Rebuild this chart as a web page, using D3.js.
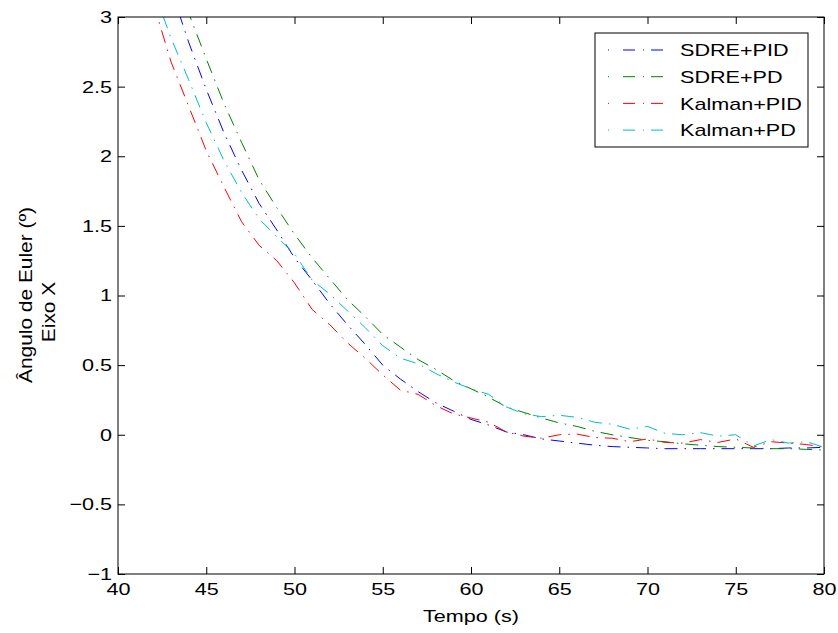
<!DOCTYPE html>
<html>
<head>
<meta charset="utf-8">
<script src="https://cdn.jsdelivr.net/npm/d3@7"></script>
<style>
  body { margin: 0; background: #fff; }
  text { font-family: 'Liberation Sans', Arial, Helvetica, sans-serif; }
</style>
</head>
<body>
<svg id="chart" width="838" height="633"></svg>
<script>
// data (time in s, angle in degrees)
const tempo = [42, 43, 44, 45, 46, 47, 48, 49, 50, 51, 52, 53, 54, 55, 56, 57, 58, 59, 60, 61,
  62, 63, 64, 65, 66, 67, 68, 69, 70, 71, 72, 73, 74, 75, 76, 77, 78, 79, 80];

const sdrePid = [3.62, 3.2, 2.82, 2.48, 2.17, 1.9, 1.66, 1.47, 1.27, 1.11, 0.94, 0.79, 0.65, 0.5,
  0.4, 0.31, 0.23, 0.17, 0.11, 0.07, 0.02, 0.0, -0.03, -0.045, -0.06, -0.075, -0.085, -0.09,
  -0.095, -0.1, -0.1, -0.1, -0.1, -0.1, -0.1, -0.1, -0.095, -0.095, -0.09];

const sdrePd = [3.85, 3.42, 3.03, 2.7, 2.38, 2.1, 1.83, 1.63, 1.44, 1.27, 1.12, 0.97, 0.85, 0.72,
  0.63, 0.54, 0.47, 0.39, 0.33, 0.27, 0.2, 0.16, 0.12, 0.085, 0.06, 0.025, 0.0, -0.02, -0.04,
  -0.05, -0.065, -0.075, -0.085, -0.09, -0.095, -0.1, -0.1, -0.105, -0.11];

const kalmanPid = [3.1, 2.68, 2.36, 2.04, 1.78, 1.53, 1.36, 1.25, 1.09, 0.9, 0.79, 0.66, 0.55, 0.43,
  0.32, 0.29, 0.21, 0.15, 0.12, 0.09, 0.02, -0.01, -0.025, 0.0, 0.005, -0.02, -0.025, -0.05, -0.03,
  -0.055, -0.06, -0.035, -0.055, -0.03, -0.09, -0.05, -0.06, -0.07, -0.09];

const kalmanPd = [3.2, 2.85, 2.55, 2.24, 1.97, 1.74, 1.55, 1.42, 1.3, 1.11, 1.01, 0.89, 0.77, 0.64,
  0.55, 0.51, 0.44, 0.38, 0.33, 0.29, 0.2, 0.15, 0.13, 0.14, 0.125, 0.09, 0.075, 0.04, 0.06, 0.01,
  0.0, 0.015, -0.01, 0.0, -0.08, -0.035, -0.06, -0.05, -0.09];

const seriesNames = ['SDRE+PID', 'SDRE+PD', 'Kalman+PID', 'Kalman+PD'];
const seriesValues = [sdrePid, sdrePd, kalmanPid, kalmanPd];
const seriesColors = ['#0000ff', '#008000', '#ff0000', '#00bfbf'];

const xTicks = [40, 45, 50, 55, 60, 65, 70, 75, 80];
const yTicks = [-1, -0.5, 0, 0.5, 1, 1.5, 2, 2.5, 3];

// layout
const margin = { left: 118, top: 17 };
const width = 706;
const height = 557;
const fontSize = 17;
const stretch = 1.27; // the reference text is wider than plain Arial
const dashes = '13,7,1.5,7';

const svg = d3.select('#chart');
const g = svg.append('g').attr('transform', `translate(${margin.left},${margin.top})`);

const x = d3.scaleLinear().domain([40, 80]).range([0, width]);
const y = d3.scaleLinear().domain([-1, 3]).range([height, 0]);

const fmt = (d) => String(d).replace('-', '\u2212');

svg.append('defs')
  .append('clipPath')
  .attr('id', 'plot-area')
  .append('rect')
  .attr('width', width)
  .attr('height', height);

// curves
const line = d3.line()
  .x((d, i) => x(tempo[i]))
  .y((d) => y(d));

g.append('g')
  .attr('clip-path', 'url(#plot-area)')
  .selectAll('path')
  .data(seriesValues)
  .enter()
  .append('path')
  .attr('d', (d) => line(d))
  .attr('fill', 'none')
  .attr('stroke', (d, i) => seriesColors[i])
  .attr('stroke-width', 1)
  .attr('stroke-dasharray', dashes);

// axes, ticks pointing inward like matlab
const bottomAxis = g.append('g')
  .attr('transform', `translate(0,${height})`)
  .call(d3.axisBottom(x).tickValues(xTicks).tickSize(-7).tickPadding(9).tickFormat(fmt));
const leftAxis = g.append('g')
  .call(d3.axisLeft(y).tickValues(yTicks).tickSize(-7).tickPadding(6).tickFormat(fmt));
g.append('g')
  .call(d3.axisTop(x).tickValues(xTicks).tickSize(-7).tickFormat(''));
g.append('g')
  .attr('transform', `translate(${width},0)`)
  .call(d3.axisRight(y).tickValues(yTicks).tickSize(-7).tickFormat(''));

g.selectAll('.domain').remove();
g.selectAll('.tick line').attr('stroke', '#000');

bottomAxis.selectAll('text')
  .attr('font-size', fontSize)
  .attr('fill', '#000')
  .attr('transform', `scale(${stretch},1)`);
leftAxis.selectAll('text')
  .attr('font-size', fontSize)
  .attr('fill', '#000')
  .attr('x', -6 / stretch)
  .attr('transform', `scale(${stretch},1)`);

g.append('rect')
  .attr('width', width)
  .attr('height', height)
  .attr('fill', 'none')
  .attr('stroke', '#000')
  .attr('stroke-width', 1);

// axis titles
svg.append('g')
  .attr('transform', `translate(${margin.left + width / 2},622) scale(${stretch},1)`)
  .append('text')
  .attr('text-anchor', 'middle')
  .attr('font-size', fontSize)
  .text('Tempo (s)');

const yTitleLines = ['\u00c2ngulo de Euler (\u00ba)', 'Eixo X'];
const yTitleCenters = [295, 312];
const yTitleBaselines = [32, 55];

svg.selectAll('g.ytitle')
  .data(yTitleLines)
  .enter()
  .append('g')
  .attr('class', 'ytitle')
  .attr('transform', (d, i) => `translate(0,${yTitleCenters[i]}) rotate(-90) scale(1.1,1)`)
  .append('text')
  .attr('text-anchor', 'middle')
  .attr('y', (d, i) => yTitleBaselines[i])
  .attr('font-size', 19)
  .text((d) => d);

// legend
const legend = svg.append('g').attr('transform', 'translate(595,33)');
legend.append('rect')
  .attr('width', 213)
  .attr('height', 114)
  .attr('fill', '#fff')
  .attr('stroke', '#000')
  .attr('stroke-width', 1);

const rows = legend.selectAll('g.row')
  .data(seriesNames)
  .enter()
  .append('g')
  .attr('class', 'row')
  .attr('transform', (d, i) => `translate(0,${17 + i * 26.7})`);

rows.append('line')
  .attr('x1', 13)
  .attr('x2', 77)
  .attr('stroke', (d, i) => seriesColors[i])
  .attr('stroke-width', 1)
  .attr('stroke-dasharray', '1,14,12,8,1,7,12,9,1');

rows.append('g')
  .attr('transform', `translate(85,0) scale(${stretch},1)`)
  .append('text')
  .attr('dy', '0.36em')
  .attr('font-size', fontSize)
  .text((d) => d);
</script>
</body>
</html>
